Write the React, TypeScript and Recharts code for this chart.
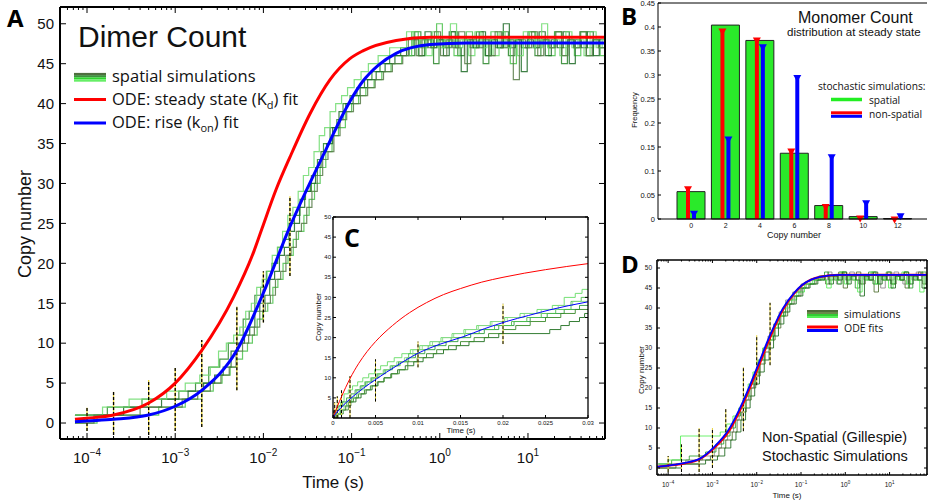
import React from "react";
import {
  ComposedChart,
  BarChart,
  Bar,
  Line,
  XAxis,
  YAxis,
  ReferenceLine,
} from "recharts";

const SANS = "'Liberation Sans', Arial, sans-serif";
const CAL = "'Open Sans', Lato, sans-serif";
const RED = "#ff0000";
const BLUE = "#0000ff";

// ---------- panel A: dimer count, log time ----------
const A_DOM: [number, number] = [4.94e-5, 74.7];
const A_YT = [0, 5, 10, 15, 20, 25, 30, 35, 40, 45, 50];

const A_RED: [number, number][] = [
  [7.3e-5, 0.46], [1e-4, 0.6], [2e-4, 1.0], [5e-4, 2.5], [1e-3, 5.0], [2e-3, 9.1],
  [4.6e-3, 15.8], [7.8e-3, 21.5], [9.6e-3, 24.3], [0.014, 29.3], [0.02, 33.3], [0.034, 38.8],
  [0.057, 43], [0.095, 45.6], [0.134, 46.6], [0.32, 47.9], [0.78, 48.3], [74.7, 48.3],
];
const A_BLUE: [number, number][] = [
  [7.3e-5, 0.15], [1e-4, 0.25], [2e-4, 0.46], [5e-4, 1.0], [1e-3, 2.1], [2e-3, 4.1],
  [5e-3, 9.1], [0.01, 16.3], [0.02, 24.6], [0.026, 27.4], [0.048, 33.6], [0.081, 38.8],
  [0.096, 40.3], [0.134, 42.8], [0.2, 44.8], [0.32, 46.3], [0.78, 47.4], [2, 47.6], [74.7, 47.6],
];

const A_SIM1: [number, number][] = [
  [7.3e-5, 1], [1.7e-4, 2], [4.2e-4, 3], [1.1e-3, 4], [1.7e-3, 5], [2.4e-3, 7], [3.2e-3, 8],
  [4e-3, 10], [5e-3, 11], [5.9e-3, 13], [6.9e-3, 14], [8e-3, 16], [9.3e-3, 17], [0.0108, 19],
  [0.0125, 20], [0.0145, 22], [0.0168, 23], [0.0195, 25], [0.0225, 26], [0.026, 28], [0.03, 29],
  [0.035, 31], [0.041, 33], [0.048, 35], [0.057, 37], [0.068, 38], [0.08, 40], [0.096, 41],
  [0.115, 42], [0.14, 43], [0.17, 44], [0.21, 45], [0.27, 46], [0.36, 47],
  [0.45, 46], [0.52, 49], [0.61, 47], [0.72, 48], [0.85, 45], [0.98, 48], [1.15, 47], [1.35, 49],
  [1.6, 46], [1.9, 48], [2.2, 47], [2.6, 49], [3.1, 45], [3.6, 48], [4.3, 47], [5.1, 49], [6, 46],
  [7.1, 48], [8.4, 47], [10, 49], [12, 46], [14, 48], [17, 47], [20, 49], [24, 45], [28, 48],
  [33, 47], [39, 49], [46, 46], [55, 48], [64, 47], [74.7, 48],
];
const A_SIM2: [number, number][] = [
  [7.3e-5, 0], [1.3e-4, 1], [6.5e-4, 2], [1.3e-3, 3], [2e-3, 4], [2.7e-3, 5], [3.4e-3, 6],
  [4.2e-3, 7], [5e-3, 8], [5.8e-3, 9], [6.6e-3, 10], [7.5e-3, 11], [8.5e-3, 13], [9.8e-3, 14],
  [0.0112, 15], [0.0128, 17], [0.0146, 18], [0.0167, 20], [0.019, 21], [0.0218, 23], [0.025, 24],
  [0.0288, 26], [0.033, 28], [0.038, 30], [0.044, 32], [0.051, 34], [0.06, 36], [0.071, 37],
  [0.085, 39], [0.1, 40], [0.12, 41], [0.145, 42], [0.18, 43], [0.22, 44], [0.28, 45], [0.37, 46],
  [0.48, 49], [0.57, 46], [0.67, 48], [0.79, 47], [0.92, 50], [1.07, 47], [1.25, 48], [1.45, 46],
  [1.7, 48], [2.0, 49], [2.35, 47], [2.75, 48], [3.25, 46], [3.8, 49], [4.5, 47], [5.3, 48],
  [6.3, 45], [7.4, 48], [8.8, 47], [10.4, 49], [12.3, 47], [14.5, 48], [17.2, 46], [20.3, 49],
  [24, 47], [28.4, 48], [33.6, 46], [39.7, 49], [47, 47], [55.6, 48], [65.8, 46], [74.7, 47],
];
const A_SIM3: [number, number][] = [
  [7.3e-5, 1], [2.6e-4, 2], [7e-4, 3], [1.4e-3, 4], [2.1e-3, 5], [2.8e-3, 6], [3.5e-3, 7],
  [4.3e-3, 9], [5.2e-3, 10], [6.1e-3, 11], [7e-3, 12], [8e-3, 14], [9.1e-3, 15], [0.0104, 16],
  [0.0118, 18], [0.0134, 19], [0.0152, 21], [0.0173, 22], [0.0197, 24], [0.0225, 25], [0.0257, 27],
  [0.0294, 29], [0.034, 30], [0.039, 32], [0.045, 34], [0.052, 35], [0.061, 37], [0.072, 39],
  [0.086, 40], [0.104, 41], [0.125, 42], [0.152, 43], [0.19, 44], [0.24, 45], [0.31, 46], [0.42, 47],
  [0.5, 48], [0.58, 46], [0.68, 49], [0.8, 47], [0.93, 48], [1.1, 46], [1.28, 49], [1.5, 47],
  [1.75, 44], [2.05, 48], [2.4, 47], [2.8, 49], [3.3, 46], [3.85, 48], [4.5, 47], [5.25, 50],
  [6.15, 47], [7.2, 48], [8.4, 44], [9.8, 48], [11.5, 47], [13.4, 49], [15.7, 46], [18.4, 48],
  [21.5, 47], [25.1, 49], [29.4, 45], [34.4, 48], [40.2, 47], [47, 49], [55, 46], [64.3, 48], [74.7, 47],
];
const A_SIM4: [number, number][] = [
  [7.3e-5, 1], [1.5e-4, 2], [3e-4, 3], [8e-4, 4], [1.3e-3, 5], [1.9e-3, 6], [2.5e-3, 7],
  [3.1e-3, 9], [3.8e-3, 10], [4.6e-3, 11], [5.4e-3, 12], [6.3e-3, 14], [7.3e-3, 15], [8.4e-3, 17],
  [9.7e-3, 18], [0.011, 19], [0.0126, 21], [0.0144, 22], [0.0165, 24], [0.0189, 26], [0.0216, 27],
  [0.0248, 29], [0.0284, 31], [0.0326, 32], [0.0375, 34], [0.043, 36], [0.0495, 37], [0.057, 39],
  [0.066, 40], [0.077, 41], [0.09, 42], [0.107, 43], [0.128, 44], [0.155, 45], [0.2, 46], [0.27, 47],
  [0.42, 49], [0.5, 47], [0.59, 48], [0.7, 46], [0.82, 49], [0.96, 47], [1.12, 48], [1.32, 50],
  [1.55, 47], [1.82, 48], [2.13, 46], [2.5, 49], [2.93, 47], [3.43, 48], [4.02, 46], [4.7, 49],
  [5.5, 47], [6.45, 48], [7.55, 46], [8.85, 49], [10.4, 47], [12.2, 48], [14.3, 50], [16.7, 47],
  [19.6, 48], [23, 46], [26.9, 49], [31.5, 47], [36.9, 48], [43.2, 46], [50.6, 49], [59.3, 47],
  [69.4, 48], [74.7, 48],
];
const A_SIM5: [number, number][] = [
  [7.3e-5, 0], [1.2e-4, 1], [4e-4, 2], [1.2e-3, 3], [1.8e-3, 4], [2.5e-3, 5], [3.3e-3, 6],
  [4.1e-3, 7], [4.9e-3, 9], [5.8e-3, 10], [6.8e-3, 11], [7.9e-3, 12], [9.1e-3, 14], [0.0105, 15],
  [0.012, 16], [0.0137, 18], [0.0157, 19], [0.018, 21], [0.0206, 22], [0.0236, 24], [0.027, 25],
  [0.031, 27], [0.0355, 29], [0.0408, 31], [0.047, 33], [0.054, 34], [0.063, 36], [0.074, 38],
  [0.088, 39], [0.105, 40], [0.126, 41], [0.152, 42], [0.185, 43], [0.23, 44], [0.29, 45], [0.38, 46],
  [0.44, 48], [0.54, 46], [0.63, 48], [0.74, 47], [0.87, 49], [1.02, 46], [1.2, 48], [1.4, 47],
  [1.64, 49], [1.92, 45], [2.25, 48], [2.64, 47], [3.1, 48], [3.62, 46], [4.24, 49], [4.97, 47],
  [5.82, 48], [6.82, 43], [7.99, 48], [9.36, 47], [11, 49], [12.9, 46], [15.1, 48], [17.7, 47],
  [20.7, 49], [24.3, 46], [28.4, 48], [33.3, 47], [39, 49], [45.7, 46], [53.5, 48], [62.7, 47], [74.7, 48],
];
const A_SIMS = [A_SIM1, A_SIM2, A_SIM3, A_SIM4, A_SIM5];
const A_SIM_COLORS = ["#2a862a", "#4cc24c", "#1c6a26", "#6fdc6f", "#557a45"];

// error bars (time, low, high)
const ERR_T = [1e-4, 2e-4, 5e-4, 1e-3, 2e-3, 5e-3, 0.01, 0.02];
const ERR_LO = [-1, -1.5, -1.5, -1, -0.5, 4.1, 12.6, 18.4];
const ERR_HI = [1.9, 3.9, 5.4, 6.9, 10.4, 14.6, 19, 28.4];

// ---------- panel C: inset, linear time ----------
const C_XT = [0, 0.005, 0.01, 0.015, 0.02, 0.025, 0.03];
const C_XL = ["0", "0.005", "0.01", "0.015", "0.02", "0.025", "0.03"];
const C_YT = [5, 10, 15, 20, 25, 30, 35, 40, 45, 50];
const C_RED: [number, number][] = [
  [0, 0], [0.0005, 2.8], [0.001, 5.3], [0.002, 9.8], [0.003, 13.5], [0.004, 16.5], [0.005, 19],
  [0.007, 23], [0.009, 26.2], [0.011, 28.7], [0.013, 30.7], [0.015, 32.2], [0.0175, 33.8],
  [0.02, 35], [0.025, 36.9], [0.03, 38.4],
];
const C_BLUE: [number, number][] = [
  [0, 0.2], [0.0005, 1.5], [0.001, 2.7], [0.0021, 4.9], [0.0035, 7.3], [0.0051, 9.7], [0.0075, 13],
  [0.01, 16.1], [0.0125, 18.3], [0.0153, 20.2], [0.0178, 22.2], [0.0204, 24], [0.023, 25.5],
  [0.0255, 26.9], [0.03, 28.9],
];
const C_SIM1: [number, number][] = [
  [0, 0], [0.0004, 1], [0.0009, 2], [0.0015, 3], [0.0021, 4], [0.0027, 5], [0.0033, 6], [0.0039, 7],
  [0.0046, 8], [0.0053, 9], [0.006, 10], [0.0068, 11], [0.0076, 12], [0.0085, 13], [0.0095, 14],
  [0.0106, 15], [0.0118, 16], [0.013, 17], [0.0145, 18], [0.016, 19], [0.0178, 20], [0.0195, 21],
  [0.0255, 22], [0.0268, 23], [0.0278, 24], [0.029, 25], [0.0296, 26], [0.03, 26],
];
const C_SIM2: [number, number][] = [
  [0, 0], [0.0002, 1], [0.0005, 3], [0.0009, 4], [0.0013, 6], [0.0018, 7], [0.0023, 8], [0.0029, 9],
  [0.0035, 10], [0.0042, 11], [0.0049, 12], [0.0056, 13], [0.0064, 14], [0.0072, 15], [0.0081, 16],
  [0.0091, 17], [0.0102, 18], [0.0114, 19], [0.0127, 20], [0.014, 21], [0.0154, 22], [0.0169, 23],
  [0.0185, 24], [0.0202, 25], [0.022, 26], [0.024, 27], [0.0258, 28], [0.0272, 30], [0.0285, 31],
  [0.0293, 32], [0.03, 32],
];
const C_SIM3: [number, number][] = [
  [0, 0], [0.0003, 2], [0.0007, 3], [0.0011, 4], [0.0016, 5], [0.0021, 6], [0.0026, 7], [0.0032, 8],
  [0.0038, 9], [0.0045, 10], [0.0052, 11], [0.006, 12], [0.0068, 13], [0.0077, 14], [0.0087, 15],
  [0.0097, 16], [0.0108, 17], [0.012, 18], [0.0133, 19], [0.0147, 20], [0.0162, 21], [0.0178, 22],
  [0.0195, 23], [0.0213, 24], [0.0232, 25], [0.0252, 26], [0.0272, 27], [0.029, 28], [0.03, 28],
];
const C_SIM4: [number, number][] = [
  [0, 0], [0.0005, 1], [0.001, 3], [0.0016, 4], [0.0022, 5], [0.0028, 7], [0.0034, 8], [0.004, 9],
  [0.0047, 10], [0.0054, 11], [0.0062, 12], [0.007, 13], [0.0079, 14], [0.0089, 16], [0.01, 17],
  [0.0112, 18], [0.0125, 19], [0.0139, 20], [0.0155, 21], [0.0172, 22], [0.019, 23], [0.021, 24],
  [0.0228, 25], [0.0245, 26], [0.0262, 27], [0.028, 29], [0.0292, 30], [0.03, 30],
];
const C_SIM5: [number, number][] = [
  [0, 0], [0.0006, 1], [0.0012, 2], [0.0018, 4], [0.0024, 5], [0.003, 6], [0.0037, 7], [0.0044, 8],
  [0.0052, 9], [0.006, 10], [0.0069, 11], [0.0078, 12], [0.0088, 14], [0.0099, 15], [0.011, 16],
  [0.0122, 17], [0.0136, 18], [0.015, 19], [0.0166, 20], [0.0183, 21], [0.02, 22], [0.0215, 23],
  [0.0232, 24], [0.025, 25], [0.0268, 26], [0.0285, 27], [0.03, 27],
];
const C_SIM6: [number, number][] = [
  [0, 0], [0.0003, 1], [0.0008, 2], [0.0013, 4], [0.0019, 5], [0.0025, 6], [0.0031, 7], [0.0037, 9],
  [0.0044, 10], [0.0051, 11], [0.0059, 12], [0.0067, 13], [0.0075, 14], [0.0084, 15], [0.0094, 17],
  [0.0105, 18], [0.0117, 19], [0.0129, 20], [0.0142, 21], [0.0156, 22], [0.0171, 23], [0.0187, 24],
  [0.0205, 25], [0.0225, 26], [0.0245, 27], [0.0265, 28], [0.0282, 29], [0.03, 29],
];
const C_SIMS = [C_SIM1, C_SIM2, C_SIM3, C_SIM4, C_SIM5, C_SIM6];
const C_SIM_COLORS = ["#1f6f1f", "#66dd66", "#2f9f3f", "#4fbf4f", "#3a8a2a", "#8ad88a"];

// ---------- panel B: monomer count distribution ----------
const B_COPY = ["0", "2", "4", "6", "8", "10", "12"];
const B_SPATIAL = [0.057, 0.404, 0.372, 0.137, 0.028, 0.005, 0.001];
const B_RED = [0.066, 0.395, 0.376, 0.145, 0.029, 0.005, 0.003];
const B_BLUE = [0.015, 0.17, 0.362, 0.298, 0.133, 0.037, 0.01];
const B_YT = [0, 0.05, 0.1, 0.15, 0.2, 0.25, 0.3, 0.35, 0.4, 0.45];

// ---------- panel D: non-spatial gillespie ----------
const D_DOM: [number, number] = [5.6e-5, 70];
const D_YT = [0, 5, 10, 15, 20, 25, 30, 35, 40, 45, 50];
const D_BLUE: [number, number][] = [
  [5.6e-5, 0.3], [1e-4, 0.6], [2.2e-4, 1.2], [5.3e-4, 2.4], [1.1e-3, 5.3], [2.3e-3, 9.5],
  [4.9e-3, 16.6], [0.01, 24.9], [0.02, 33.2], [0.039, 39.9], [0.07, 43.8], [0.104, 45.7],
  [0.17, 47.1], [0.27, 47.8], [0.75, 48.3], [70, 48.3],
];
const D_RED: [number, number][] = [
  [5.6e-5, 0.3], [1e-4, 0.6], [2.2e-4, 1.1], [5.3e-4, 2.3], [1.1e-3, 5.0], [2.3e-3, 9.0],
  [4.9e-3, 16.0], [0.01, 24.2], [0.02, 32.6], [0.039, 39.5], [0.07, 43.6], [0.104, 45.6],
  [0.17, 47.1], [0.27, 47.8], [0.75, 48.3], [70, 48.3],
];
const D_SIM1: [number, number][] = [
  [6e-5, 1], [2.5e-4, 2], [6e-4, 3], [1.1e-3, 5], [1.6e-3, 7], [2.2e-3, 9], [3e-3, 12], [4e-3, 14],
  [5e-3, 17], [6.5e-3, 20], [8.5e-3, 23], [0.011, 27], [0.014, 30], [0.018, 33], [0.024, 36],
  [0.032, 39], [0.045, 42], [0.065, 44], [0.1, 46], [0.16, 47], [0.25, 48],
  [0.32, 47], [0.4, 49], [0.5, 48], [0.63, 46], [0.8, 48], [1, 47], [1.26, 49], [1.6, 48], [2, 46],
  [2.5, 48], [3.2, 47], [4, 49], [5, 48], [6.3, 45], [8, 48], [10, 47], [12.6, 49], [16, 48],
  [20, 46], [25, 48], [32, 47], [40, 49], [50, 48], [63, 46], [70, 48],
];
const D_SIM2: [number, number][] = [
  [6e-5, 0], [1.5e-4, 1], [5e-4, 2], [9e-4, 3], [1.4e-3, 5], [2e-3, 7], [2.8e-3, 9], [3.6e-3, 12],
  [4.6e-3, 14], [5.8e-3, 17], [7.5e-3, 20], [0.0095, 23], [0.012, 26], [0.0155, 29], [0.02, 32],
  [0.026, 35], [0.035, 38], [0.05, 41], [0.07, 43], [0.1, 45], [0.15, 46], [0.22, 47], [0.3, 48],
  [0.36, 46], [0.45, 48], [0.56, 47], [0.71, 49], [0.9, 45], [1.12, 48], [1.42, 47], [1.78, 49],
  [2.24, 46], [2.82, 48], [3.55, 47], [4.47, 44], [5.62, 48], [7.08, 47], [8.91, 49], [11.2, 46],
  [14.1, 48], [17.8, 47], [22.4, 45], [28.2, 48], [35.5, 47], [44.7, 49], [56.2, 46], [70, 48],
];
const D_SIM3: [number, number][] = [
  [6e-5, 1], [1.2e-4, 2], [3e-4, 3], [7e-4, 4], [1.2e-3, 6], [1.8e-3, 8], [2.5e-3, 10], [3.3e-3, 13],
  [4.3e-3, 15], [5.5e-3, 18], [7e-3, 21], [9e-3, 24], [0.0115, 27], [0.015, 30], [0.019, 33],
  [0.025, 36], [0.033, 38], [0.045, 41], [0.062, 43], [0.09, 45], [0.13, 46], [0.2, 47], [0.28, 48],
  [0.34, 49], [0.42, 47], [0.53, 48], [0.67, 46], [0.84, 49], [1.06, 47], [1.33, 48], [1.68, 45],
  [2.11, 48], [2.66, 47], [3.35, 49], [4.22, 46], [5.31, 48], [6.68, 47], [8.41, 49], [10.6, 46],
  [13.3, 48], [16.8, 47], [21.1, 49], [26.6, 45], [33.5, 48], [42.2, 47], [53.1, 49], [66.8, 46], [70, 48],
];
const D_SIM4: [number, number][] = [
  [6e-5, 1], [1e-4, 2], [1.9e-4, 8], [1.1e-3, 8], [1.5e-3, 9], [2.1e-3, 11], [2.9e-3, 13],
  [3.9e-3, 15], [5e-3, 18], [6.4e-3, 21], [8.2e-3, 24], [0.0105, 27], [0.0135, 30], [0.0175, 32],
  [0.023, 35], [0.03, 38], [0.04, 40], [0.055, 42], [0.08, 44], [0.12, 46], [0.18, 47], [0.26, 48],
  [0.3, 47], [0.38, 45], [0.48, 48], [0.6, 47], [0.76, 49], [0.95, 46], [1.2, 48], [1.5, 47],
  [1.9, 44], [2.4, 48], [3, 47], [3.8, 49], [4.8, 46], [6, 48], [7.6, 47], [9.5, 45], [12, 48],
  [15, 47], [19, 49], [24, 46], [30, 48], [38, 47], [48, 44], [60, 48], [70, 47],
];
const D_SIM5: [number, number][] = [
  [6e-5, 0], [2e-4, 1], [7e-4, 2], [1.3e-3, 3], [1.9e-3, 5], [2.6e-3, 7], [3.4e-3, 9], [4.4e-3, 12],
  [5.6e-3, 15], [7.1e-3, 18], [9e-3, 21], [0.0115, 24], [0.0148, 27], [0.019, 30], [0.024, 33],
  [0.031, 36], [0.041, 39], [0.056, 41], [0.078, 43], [0.11, 45], [0.16, 46], [0.24, 47], [0.34, 48],
  [0.43, 46], [0.54, 48], [0.68, 47], [0.86, 49], [1.08, 46], [1.36, 48], [1.71, 47], [2.15, 43],
  [2.71, 48], [3.41, 47], [4.29, 49], [5.4, 46], [6.8, 48], [8.56, 47], [10.8, 45], [13.6, 48],
  [17.1, 47], [21.5, 49], [27.1, 46], [34.1, 48], [42.9, 47], [54, 45], [68, 48], [70, 47],
];
const D_SIMS = [D_SIM1, D_SIM2, D_SIM3, D_SIM4, D_SIM5];
const D_SIM_COLORS = ["#8a8a8a", "#4f6f2f", "#2e9e2e", "#55ee55", "#1f6a1f"];
const D_ERR_T = [1e-4, 2e-4, 5e-4, 1e-3, 2e-3, 5e-3, 0.01, 0.02];
const D_ERR_LO = [-1, -1, -1, 0, 7.7, 9.2, 20.7, 25.7];
const D_ERR_HI = [3, 5.9, 10, 10, 14.7, 25.2, 33.2, 41.3];

// ---------- helpers ----------
const LOG_MAJOR = [1e-4, 1e-3, 1e-2, 1e-1, 1, 10];
const DECADES = [1e-5, 1e-4, 1e-3, 1e-2, 1e-1, 1, 10];
const MULTS = [1, 2, 3, 4, 5, 6, 7, 8, 9];

function logTicks(dom: [number, number]) {
  const out: number[] = [];
  DECADES.forEach((d) =>
    MULTS.forEach((m) => {
      const v = +(d * m).toPrecision(3);
      if (v >= dom[0] && v <= dom[1]) out.push(v);
    })
  );
  return out;
}

const pts = (a: [number, number][]) => a.map(([t, v]) => ({ t, v }));

type Side = "bottom" | "top" | "left" | "right";
interface TickOpts {
  side: Side;
  len: number;
  minorLen?: number;
  majors?: number[];
  label?: (v: number) => React.ReactNode;
  fs?: number;
  gap?: number;
}

function tick(o: TickOpts) {
  return (p: any) => {
    const { x, y, payload } = p;
    const v = payload.value as number;
    const major = !o.majors || o.majors.indexOf(v) >= 0;
    const L = major ? o.len : o.minorLen ?? 0;
    let x2 = x;
    let y2 = y;
    if (o.side === "bottom") y2 = y - L;
    if (o.side === "top") y2 = y + L;
    if (o.side === "left") x2 = x + L;
    if (o.side === "right") x2 = x - L;
    const lab = major && o.label ? o.label(v) : null;
    const gap = o.gap ?? 4;
    let text: React.ReactNode = null;
    if (lab !== null) {
      if (o.side === "bottom")
        text = (
          <text x={x} y={y + gap} textAnchor="middle" fontSize={o.fs} fontFamily={SANS} fill="#111">
            {lab}
          </text>
        );
      if (o.side === "left")
        text = (
          <text x={x - gap} y={y} dy="0.35em" textAnchor="end" fontSize={o.fs} fontFamily={SANS} fill="#111">
            {lab}
          </text>
        );
    }
    return (
      <g>
        {L > 0 && <line x1={x} y1={y} x2={x2} y2={y2} stroke="#000" strokeWidth={1} />}
        {text}
      </g>
    );
  };
}

const logLabel = (sup: number, dy: number) => (v: number) => {
  const e = Math.round(Math.log10(v));
  return (
    <>
      10
      <tspan dy={-dy} fontSize={sup}>
        {e < 0 ? "\u2212" + Math.abs(e) : String(e)}
      </tspan>
    </>
  );
};

function errBars(ts: number[], lo: number[], hi: number[], xId: string, yId: string, w: number, floor?: number) {
  const out: React.ReactNode[] = [];
  ts.forEach((t, i) => {
    const a = floor === undefined ? lo[i] : Math.max(floor, lo[i]);
    const seg = [{ x: t, y: a }, { x: t, y: hi[i] }];
    out.push(
      <ReferenceLine key={"ey" + i} xAxisId={xId} yAxisId={yId} segment={seg} stroke="#e6d23a" strokeWidth={w} ifOverflow="extendDomain" />
    );
    out.push(
      <ReferenceLine key={"ek" + i} xAxisId={xId} yAxisId={yId} segment={seg} stroke="#000" strokeWidth={w} strokeDasharray="3 2" ifOverflow="extendDomain" />
    );
  });
  return out;
}

const BOX = { stroke: "#000", strokeWidth: 2 };

// ---------- panels ----------
function PanelA() {
  const xt = logTicks(A_DOM);
  const yd: [number, number] = [-2, 52.1];
  return (
    <ComposedChart width={620} height={501} margin={{ top: 6, right: 14, bottom: 22, left: 0 }}>
      <XAxis xAxisId="b" dataKey="t" type="number" scale="log" domain={A_DOM} allowDataOverflow ticks={xt}
        interval={0} tickSize={0} tickMargin={0} tickLine={false} height={40} axisLine={BOX}
        tick={tick({ side: "bottom", len: 6, minorLen: 3, majors: LOG_MAJOR, label: logLabel(10, 7), fs: 15, gap: 24 })} />
      <XAxis xAxisId="t" orientation="top" dataKey="t" type="number" scale="log" domain={A_DOM} allowDataOverflow
        ticks={xt} interval={0} tickSize={0} tickMargin={0} tickLine={false} height={1} axisLine={BOX}
        tick={tick({ side: "top", len: 6, minorLen: 3, majors: LOG_MAJOR })} />
      <YAxis yAxisId="l" type="number" domain={yd} allowDataOverflow ticks={A_YT} interval={0} tickSize={0}
        tickMargin={0} tickLine={false} width={60} axisLine={BOX}
        tick={tick({ side: "left", len: 6, label: (v) => String(v), fs: 15, gap: 6 })} />
      <YAxis yAxisId="r" orientation="right" type="number" domain={yd} allowDataOverflow ticks={A_YT} interval={0}
        tickSize={0} tickMargin={0} tickLine={false} width={1} axisLine={BOX} tick={tick({ side: "right", len: 6 })} />
      {A_SIMS.map((s, i) => (
        <Line key={"as" + i} xAxisId="b" yAxisId="l" data={pts(s)} dataKey="v" type="stepAfter" stroke={A_SIM_COLORS[i]}
          strokeWidth={1.2} strokeOpacity={0.85} dot={false} isAnimationActive={false} />
      ))}
      {errBars(ERR_T, ERR_LO, ERR_HI, "b", "l", 1.3)}
      <Line xAxisId="b" yAxisId="l" data={pts(A_RED)} dataKey="v" type="monotone" stroke={RED} strokeWidth={3}
        dot={false} isAnimationActive={false} />
      <Line xAxisId="b" yAxisId="l" data={pts(A_BLUE)} dataKey="v" type="monotone" stroke={BLUE} strokeWidth={3}
        dot={false} isAnimationActive={false} />
    </ComposedChart>
  );
}

function PanelC() {
  const xd: [number, number] = [0, 0.03];
  const yd: [number, number] = [0, 50];
  const ax = { stroke: "#000", strokeWidth: 1.3 };
  return (
    <ComposedChart width={295} height={229} margin={{ top: 11, right: 6, bottom: 0, left: 0 }}>
      <XAxis xAxisId="b" dataKey="t" type="number" domain={xd} allowDataOverflow ticks={C_XT} interval={0}
        tickSize={0} tickMargin={0} tickLine={false} height={16} axisLine={ax}
        tick={tick({ side: "bottom", len: 3, label: (v) => C_XL[C_XT.indexOf(v)], fs: 6, gap: 7 })} />
      <XAxis xAxisId="t" orientation="top" dataKey="t" type="number" domain={xd} allowDataOverflow ticks={C_XT}
        interval={0} tickSize={0} tickMargin={0} tickLine={false} height={1} axisLine={ax}
        tick={tick({ side: "top", len: 3 })} />
      <YAxis yAxisId="l" type="number" domain={yd} allowDataOverflow ticks={C_YT} interval={0} tickSize={0}
        tickMargin={0} tickLine={false} width={33} axisLine={ax}
        tick={tick({ side: "left", len: 3, label: (v) => String(v), fs: 6, gap: 2 })} />
      <YAxis yAxisId="r" orientation="right" type="number" domain={yd} allowDataOverflow ticks={C_YT} interval={0}
        tickSize={0} tickMargin={0} tickLine={false} width={1} axisLine={ax}
        tick={tick({ side: "right", len: 3 })} />
      {C_SIMS.map((s, i) => (
        <Line key={"cs" + i} xAxisId="b" yAxisId="l" data={pts(s)} dataKey="v" type="stepAfter" stroke={C_SIM_COLORS[i]}
          strokeWidth={1} strokeOpacity={0.9} dot={false} isAnimationActive={false} />
      ))}
      {errBars(ERR_T, ERR_LO, ERR_HI, "b", "l", 1, 0)}
      <Line xAxisId="b" yAxisId="l" data={pts(C_RED)} dataKey="v" type="monotone" stroke={RED} strokeWidth={1}
        dot={false} isAnimationActive={false} />
      <Line xAxisId="b" yAxisId="l" data={pts(C_BLUE)} dataKey="v" type="monotone" stroke={BLUE} strokeWidth={1}
        dot={false} isAnimationActive={false} />
    </ComposedChart>
  );
}

const Stem = (p: any) => {
  const { x, y, width, height, fill } = p;
  const cx = x + width / 2;
  return (
    <g>
      <rect x={x} y={y} width={width} height={Math.max(height, 0)} fill={fill} />
      <path d={`M${cx - 4},${y - 1} L${cx + 4},${y - 1} L${cx},${y + 6} Z`} fill={fill} />
    </g>
  );
};

function PanelB() {
  const rows = B_COPY.map((n, i) => ({ n, sp: B_SPATIAL[i], red: B_RED[i], blue: B_BLUE[i] }));
  const pad = { left: 16, right: 12 };
  return (
    <BarChart width={328} height={245} data={rows} margin={{ top: 3, right: 1, bottom: 10, left: 0 }} barGap={2}>
      <XAxis xAxisId="m" dataKey="n" padding={pad} height={16} interval={0} tickSize={0} tickMargin={0}
        tickLine={false} axisLine={{ stroke: "#000", strokeWidth: 1.2 }}
        tick={(p: any) => (
          <text x={p.x} y={p.y + 9} textAnchor="middle" fontSize={7} fontFamily={SANS} fill="#111">
            {p.payload.value}
          </text>
        )} />
      <XAxis xAxisId="s" dataKey="n" padding={pad} hide />
      <YAxis type="number" domain={[0, 0.45]} ticks={B_YT} interval={0} width={58} tickSize={0} tickMargin={0}
        tickLine={false} axisLine={{ stroke: "#000", strokeWidth: 1 }}
        tick={tick({ side: "left", len: 3, label: (v) => String(v), fs: 7.5, gap: 3 })} />
      <ReferenceLine xAxisId="m" y={0.45} stroke="#000" strokeWidth={1} />
      <Bar xAxisId="m" dataKey="sp" barSize={28} fill="#2aea2a" stroke="#222" strokeWidth={1} isAnimationActive={false} />
      <Bar xAxisId="s" dataKey="red" barSize={4} fill={RED} shape={Stem} isAnimationActive={false} />
      <Bar xAxisId="s" dataKey="blue" barSize={4} fill={BLUE} shape={Stem} isAnimationActive={false} />
    </BarChart>
  );
}

function PanelD() {
  const xt = logTicks(D_DOM);
  const yd: [number, number] = [-1.75, 52];
  const ax = { stroke: "#000", strokeWidth: 1.6 };
  return (
    <ComposedChart width={308} height={256} margin={{ top: 14, right: 0, bottom: 6, left: 0 }}>
      <XAxis xAxisId="b" dataKey="t" type="number" scale="log" domain={D_DOM} allowDataOverflow ticks={xt}
        interval={0} tickSize={0} tickMargin={0} tickLine={false} height={20} axisLine={ax}
        tick={tick({ side: "bottom", len: 3, minorLen: 1.5, majors: LOG_MAJOR, label: logLabel(4.5, 3), fs: 6.5, gap: 12 })} />
      <XAxis xAxisId="t" orientation="top" dataKey="t" type="number" scale="log" domain={D_DOM} allowDataOverflow
        ticks={xt} interval={0} tickSize={0} tickMargin={0} tickLine={false} height={1}
        axisLine={ax} tick={tick({ side: "top", len: 3, minorLen: 1.5, majors: LOG_MAJOR })} />
      <YAxis yAxisId="l" type="number" domain={yd} allowDataOverflow ticks={D_YT} interval={0} tickSize={0}
        tickMargin={0} tickLine={false} width={37} axisLine={ax}
        tick={tick({ side: "left", len: 3, label: (v) => String(v), fs: 6.5, gap: 5 })} />
      <YAxis yAxisId="r" orientation="right" type="number" domain={yd} allowDataOverflow ticks={D_YT} interval={0}
        tickSize={0} tickMargin={0} tickLine={false} width={1} axisLine={ax}
        tick={tick({ side: "right", len: 3 })} />
      {D_SIMS.map((s, i) => (
        <Line key={"ds" + i} xAxisId="b" yAxisId="l" data={pts(s)} dataKey="v" type="stepAfter" stroke={D_SIM_COLORS[i]}
          strokeWidth={1} strokeOpacity={0.85} dot={false} isAnimationActive={false} />
      ))}
      {errBars(D_ERR_T, D_ERR_LO, D_ERR_HI, "b", "l", 1)}
      <Line xAxisId="b" yAxisId="l" data={pts(D_RED)} dataKey="v" type="monotone" stroke={RED} strokeWidth={2.2}
        dot={false} isAnimationActive={false} />
      <Line xAxisId="b" yAxisId="l" data={pts(D_BLUE)} dataKey="v" type="monotone" stroke={BLUE} strokeWidth={1.8}
        dot={false} isAnimationActive={false} />
    </ComposedChart>
  );
}

function Overlay() {
  const t = { fontFamily: SANS, fill: "#111" } as const;
  const c = { fontFamily: CAL, fill: "#111" } as const;
  const bold = { fontFamily: CAL, fontWeight: 700, fill: "#000" } as const;
  return (
    <svg width={928} height={501} style={{ position: "absolute", left: 0, top: 0, pointerEvents: "none" }}>
      {/* panel letters */}
      <text x={7} y={27} fontSize={24} {...bold}>A</text>
      <text x={621} y={25} fontSize={24} {...bold}>B</text>
      <text x={344} y={247} fontSize={25} {...bold}>C</text>
      <text x={621} y={273} fontSize={24} {...bold}>D</text>

      {/* panel A */}
      <text x={78} y={47} fontSize={30} {...t}>Dimer Count</text>
      <line x1={74} x2={106} y1={74} y2={74} stroke="#4f6f3f" strokeWidth={2.2} />
      <line x1={74} x2={106} y1={76.2} y2={76.2} stroke="#3f8f3f" strokeWidth={2.2} />
      <line x1={74} x2={106} y1={78.4} y2={78.4} stroke="#2ed52e" strokeWidth={2.2} />
      <line x1={74} x2={106} y1={80.6} y2={80.6} stroke="#66ee66" strokeWidth={2.2} />
      <text x={112} y={82} fontSize={16.5} {...c}>spatial simulations</text>
      <line x1={74} x2={106} y1={99.5} y2={99.5} stroke={RED} strokeWidth={3} />
      <text x={112} y={105} fontSize={16.5} {...c}>
        ODE: steady state (K<tspan dy={4} fontSize={11}>d</tspan><tspan dy={-4}>) fit</tspan>
      </text>
      <line x1={74} x2={106} y1={123} y2={123} stroke={BLUE} strokeWidth={3} />
      <text x={112} y={128} fontSize={16.5} {...c}>
        ODE: rise (k<tspan dy={4} fontSize={11}>on</tspan><tspan dy={-4}>) fit</tspan>
      </text>
      <text transform="translate(25,224) rotate(-90)" textAnchor="middle" dy="0.35em" fontSize={18} {...t}>Copy number</text>
      <text x={333} y={488} textAnchor="middle" fontSize={17} {...t}>Time (s)</text>

      {/* panel C */}
      <text transform="translate(318,317) rotate(-90)" textAnchor="middle" dy="0.35em" fontSize={8} {...t}>Copy number</text>
      <text x={461} y={433} textAnchor="middle" fontSize={8} {...t}>Time (s)</text>

      {/* panel B */}
      <text x={798} y={23} fontSize={16} {...t}>Monomer Count</text>
      <text x={787} y={36} fontSize={11.5} {...t}>distribution at steady state</text>
      <text x={818} y={90} fontSize={10.2} {...c}>stochastic simulations:</text>
      <line x1={831} x2={862} y1={99.5} y2={99.5} stroke="#22ee22" strokeWidth={3.5} />
      <text x={869} y={104} fontSize={10.2} {...c}>spatial</text>
      <line x1={831} x2={862} y1={112.8} y2={112.8} stroke={RED} strokeWidth={3} />
      <line x1={831} x2={862} y1={116.3} y2={116.3} stroke={BLUE} strokeWidth={3} />
      <text x={869} y={118} fontSize={10.2} {...c}>non-spatial</text>
      <text transform="translate(634,110) rotate(-90)" textAnchor="middle" dy="0.35em" fontSize={7.5} {...t}>Frequency</text>
      <text x={794} y={238} textAnchor="middle" fontSize={9} {...t}>Copy number</text>

      {/* panel D */}
      <line x1={807} x2={838} y1={311} y2={311} stroke="#4f6a3a" strokeWidth={2} />
      <line x1={807} x2={838} y1={313} y2={313} stroke="#6a8a4a" strokeWidth={2} />
      <line x1={807} x2={838} y1={315} y2={315} stroke="#33cc33" strokeWidth={2} />
      <line x1={807} x2={838} y1={317} y2={317} stroke="#55ee55" strokeWidth={2} />
      <text x={844} y={318} fontSize={10.5} {...c}>simulations</text>
      <line x1={807} x2={838} y1={327} y2={327} stroke={RED} strokeWidth={3} />
      <line x1={807} x2={838} y1={330.5} y2={330.5} stroke={BLUE} strokeWidth={3} />
      <text x={844} y={332} fontSize={10.5} {...c}>ODE fits</text>
      <text x={762} y={442} fontSize={14.5} {...t}>Non-Spatial (Gillespie)</text>
      <text x={762} y={461} fontSize={14.5} {...t}>Stochastic Simulations</text>
      <text transform="translate(641,370) rotate(-90)" textAnchor="middle" dy="0.35em" fontSize={8} {...t}>Copy number</text>
      <text x={787} y={498} textAnchor="middle" fontSize={8} {...t}>Time (s)</text>
    </svg>
  );
}

export default function App() {
  return (
    <div style={{ position: "absolute", left: 0, top: 0, width: 928, height: 501, background: "#fff", overflow: "hidden" }}>
      <div style={{ position: "absolute", left: 0, top: 0 }}>
        <PanelA />
      </div>
      <div style={{ position: "absolute", left: 300, top: 205 }}>
        <PanelC />
      </div>
      <div style={{ position: "absolute", left: 600, top: 0 }}>
        <PanelB />
      </div>
      <div style={{ position: "absolute", left: 620, top: 245 }}>
        <PanelD />
      </div>
      <Overlay />
    </div>
  );
}
